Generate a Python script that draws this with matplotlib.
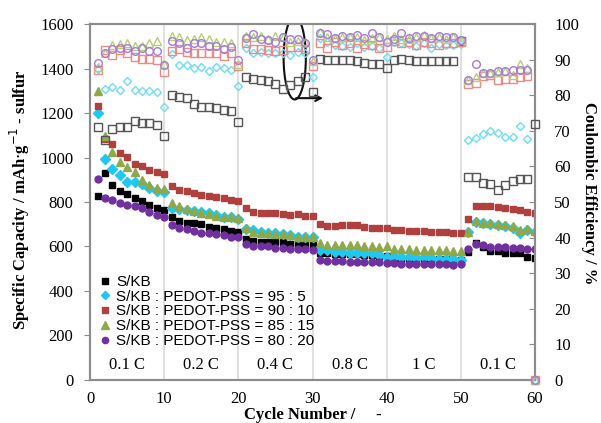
import numpy as np
import matplotlib
matplotlib.use("Agg")
import matplotlib.pyplot as plt
from matplotlib.patches import Ellipse

cycles = np.arange(1, 61)

# specific capacity (mAh/g-sulfur), left axis
cap_kb = [827, 932, 876, 851, 836, 816, 806, 786, 774, 764,
          731, 714, 707, 704, 700, 689, 682, 679, 670, 666,
          632, 625, 622, 620, 620, 618, 612, 608, 607, 605,
          572, 570, 568, 568, 566, 565, 563, 560, 558, 556,
          548, 546, 545, 545, 543, 543, 542, 542, 540, 540,
          575, 615, 599, 581, 581, 569, 569, 569, 554, 550]
cap_95 = [1198, 993, 947, 921, 891, 888, 879, 861, 851, 846,
          771, 767, 764, 759, 756, 752, 741, 734, 731, 724,
          680, 674, 666, 659, 659, 655, 652, 644, 644, 644,
          584, 584, 577, 577, 572, 572, 569, 569, 562, 554,
          554, 554, 552, 549, 554, 549, 545, 545, 545, 541,
          664, 711, 704, 701, 697, 693, 682, 659, 674, 664]
cap_90 = [1231, 1082, 1061, 1019, 1001, 971, 963, 944, 936, 924,
          872, 854, 849, 839, 831, 827, 824, 816, 809, 804,
          771, 756, 752, 749, 749, 746, 741, 744, 737, 737,
          701, 692, 692, 695, 695, 695, 689, 684, 682, 682,
          674, 673, 670, 670, 668, 667, 665, 664, 662, 659,
          724, 782, 782, 782, 779, 771, 767, 764, 756, 752]
cap_85 = [1300, 1097, 1026, 978, 956, 933, 899, 876, 861, 857,
          797, 782, 767, 761, 752, 746, 737, 734, 731, 727,
          682, 666, 662, 659, 655, 655, 652, 644, 644, 641,
          614, 607, 607, 607, 607, 607, 602, 602, 599, 600,
          589, 588, 587, 586, 585, 584, 583, 582, 581, 580,
          664, 716, 707, 704, 701, 697, 693, 674, 679, 671]
cap_80 = [903, 816, 809, 797, 786, 782, 771, 757, 741, 731,
          697, 682, 677, 671, 662, 659, 655, 652, 644, 641,
          610, 603, 600, 600, 595, 592, 590, 588, 587, 585,
          540, 536, 534, 533, 532, 532, 530, 530, 528, 526,
          525, 520, 522, 519, 519, 520, 519, 519, 518, 520,
          590, 610, 607, 599, 599, 599, 595, 595, 590, 590]

# coulombic efficiency (%), right axis
ce_kb = [71.2, 67.5, 70.4, 71.0, 71.0, 72.8, 72.3, 72.3, 71.6, 68.5,
         80.2, 79.6, 79.3, 77.5, 76.8, 76.6, 76.3, 75.8, 75.6, 72.4,
         85.2, 84.7, 84.3, 84.0, 83.1, 81.9, 82.9, 84.0, 85.2, 81.0,
         90.3, 90.0, 89.9, 90.0, 90.0, 89.6, 89.2, 88.9, 88.8, 87.7,
         90.0, 90.3, 89.9, 89.6, 89.6, 89.6, 89.6, 89.6, 89.6, 95.3,
         57.1, 56.9, 55.4, 55.1, 53.4, 54.8, 56.0, 56.6, 56.4, 71.9]
ce_95 = [87.5, 81.9, 82.2, 81.5, 84.0, 81.5, 81.3, 81.3, 81.0, 76.6,
         91.6, 88.5, 88.5, 87.7, 88.0, 86.8, 88.0, 87.8, 87.1, 82.6,
         93.2, 91.9, 92.2, 91.9, 91.8, 91.9, 91.3, 92.2, 91.8, 85.0,
         96.0, 95.0, 94.1, 93.8, 93.6, 94.6, 93.6, 93.8, 93.4, 90.8,
         95.0, 94.6, 94.4, 93.8, 94.6, 93.2, 94.5, 94.2, 94.2, 94.5,
         67.4, 67.9, 69.1, 70.0, 69.5, 68.2, 68.2, 71.3, 67.7, 0]
ce_90 = [87.1, 92.7, 91.3, 92.7, 91.9, 90.8, 90.3, 90.3, 89.9, 86.6,
         92.5, 92.9, 92.2, 91.8, 91.9, 91.9, 91.9, 91.0, 91.8, 88.2,
         94.8, 92.9, 92.9, 92.7, 92.5, 92.7, 93.6, 93.6, 92.9, 88.2,
         94.8, 93.2, 95.0, 94.1, 94.8, 93.4, 94.5, 94.1, 93.4, 93.6,
         95.3, 94.8, 95.0, 94.1, 95.0, 94.6, 94.1, 94.8, 94.6, 95.0,
         83.1, 83.4, 85.4, 85.7, 84.3, 84.5, 84.5, 85.2, 85.4, 0]
ce_85 = [88.0, 92.0, 94.1, 94.4, 94.8, 93.8, 93.8, 94.6, 95.3, 88.9,
         96.6, 96.4, 95.5, 95.7, 96.3, 95.7, 95.0, 95.0, 94.6, 88.9,
         96.6, 96.4, 96.6, 95.7, 96.6, 96.3, 95.0, 95.3, 95.0, 89.5,
         97.8, 96.3, 96.0, 96.3, 96.3, 96.4, 95.5, 96.0, 96.3, 95.7,
         96.6, 95.7, 95.7, 96.3, 96.9, 96.0, 96.4, 95.7, 96.3, 95.5,
         84.4, 85.0, 86.3, 86.3, 86.6, 86.8, 85.7, 88.9, 87.7, 0]
ce_80 = [89.2, 91.8, 92.9, 93.4, 93.2, 92.5, 93.4, 92.5, 92.5, 88.5,
         95.3, 94.6, 93.2, 94.8, 94.6, 93.9, 93.8, 92.9, 93.6, 90.0,
         96.0, 97.2, 95.7, 95.5, 95.0, 96.3, 95.7, 95.7, 94.8, 90.0,
         97.4, 97.2, 96.0, 96.6, 96.4, 96.9, 96.0, 97.4, 96.3, 95.0,
         95.7, 97.4, 96.0, 96.6, 96.6, 96.0, 96.6, 96.4, 96.3, 95.5,
         84.3, 88.9, 86.3, 86.3, 86.8, 86.8, 87.1, 87.0, 87.0, 0]

labels = ["S/KB",
          "S/KB : PEDOT-PSS = 95 : 5",
          "S/KB : PEDOT-PSS = 90 : 10",
          "S/KB : PEDOT-PSS = 85 : 15",
          "S/KB : PEDOT-PSS = 80 : 20"]
rates = ["0.1 C", "0.2 C", "0.4 C", "0.8 C", "1 C", "0.1 C"]

caps = [cap_kb, cap_95, cap_90, cap_85, cap_80]
ces = [ce_kb, ce_95, ce_90, ce_85, ce_80]
markers = ["s", "D", "s", "^", "o"]
msizes = [5, 5, 5, 6, 5]
open_sizes = [5.5, 4.5, 5.5, 5.5, 5.5]
fill_cols = ["#000000", "#1ec8f0", "#b0403e", "#8fa84a", "#7030a0"]
open_cols = ["#555555", "#6fdcf7", "#ee8a86", "#b3cf77", "#a77ad6"]

serif = "Liberation Serif"
sans = "Liberation Sans"

fig = plt.figure(figsize=(6.01, 4.23), dpi=100)
ax = fig.add_axes([0.150, 0.102, 0.740, 0.841])
ax2 = ax.twinx()

for x in range(10, 60, 10):
    ax.axvline(x, color="#dddddd", lw=1.3, zorder=0)

handles = []
for i in range(5):
    h, = ax.plot(cycles, caps[i], ls="none", marker=markers[i], ms=msizes[i],
                 color=fill_cols[i], mec=fill_cols[i], zorder=3)
    handles.append(h)
    ax2.plot(cycles, ces[i], ls="none", marker=markers[i], ms=open_sizes[i],
             mfc="none", mec=open_cols[i], mew=1.0, clip_on=False, zorder=3)

ax.set_xlim(0, 60)
ax.set_ylim(0, 1600)
ax2.set_ylim(0, 100)
ax.set_xticks(range(0, 61, 10))
ax.set_yticks(range(0, 1601, 200))
ax2.set_yticks(range(0, 101, 10))

for a in (ax, ax2):
    for s in a.spines.values():
        s.set_color("#8c8c8c")
        s.set_linewidth(1.5)

ax.tick_params(axis="x", length=0, pad=8, labelsize=12)
ax.tick_params(axis="y", direction="out", length=4, color="#8c8c8c", pad=8, labelsize=12)
ax2.tick_params(axis="y", direction="in", length=4, color="#8c8c8c", pad=14, labelsize=12)
for t in ax.get_xticklabels() + ax.get_yticklabels() + ax2.get_yticklabels():
    t.set_fontfamily(serif)

for k, r in enumerate(rates):
    ax.text(5 + 10 * k, 68, r, ha="center", va="center", fontsize=12, family=serif)

# axis titles placed in figure coords
fig.text(0.034, 0.527, "Specific Capacity / mAh$\\cdot$g$^{-1}$ - sulfur", fontsize=12,
         fontweight="bold", family=serif, rotation=90, ha="center", va="center")
fig.text(0.980, 0.544, "Coulombic Efficiency / %", fontsize=12, fontweight="bold",
         family=serif, rotation=270, ha="center", va="center")
fig.text(0.52, 0.018, "Cycle Number /     -", fontsize=12, fontweight="bold",
         family=serif, ha="center", va="center")

# highlight of cycles 26-29 efficiency with arrow to the right axis
ax.add_patch(Ellipse((27.6, 1447), 3.0, 372, fill=False, ec="#111111", lw=1.5, zorder=4))
ax.annotate("", xy=(31.8, 1267), xytext=(27.4, 1267),
            arrowprops=dict(arrowstyle="->", color="#111111", lw=1.5), zorder=4)

ax2.legend(handles, labels, loc="upper left", bbox_to_anchor=(0.0, 0.325),
           frameon=False, prop={"family": sans, "size": 11}, handlelength=0.6,
           handletextpad=0.4, labelspacing=0.05, borderpad=0.2, markerscale=0.9)

fig.savefig("out.png", dpi=100)
